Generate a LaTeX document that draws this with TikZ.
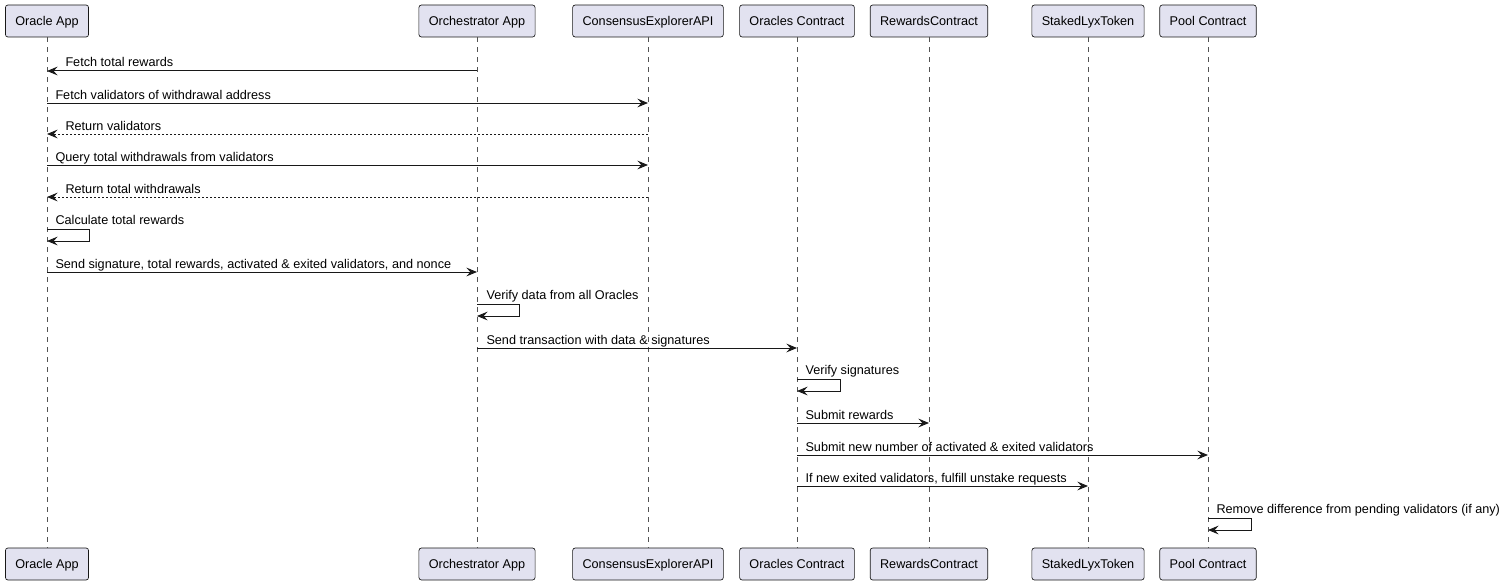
\documentclass[tikz,border=0pt]{standalone}
\usepackage{fontspec}
\setmainfont{Liberation Sans}
\usetikzlibrary{arrows.meta}

\definecolor{partfill}{HTML}{E2E2F0}
\definecolor{umlline}{HTML}{181818}

\tikzset{every picture/.style={line width=0.75pt}}
\tikzset{
  participant/.style={draw=umlline, fill=partfill, rounded corners=1.9pt, line width=0.5pt,
    minimum height=24pt, inner xsep=7.4pt, inner ysep=0pt, text depth=0.5pt, font=\fontsize{9.5}{11}\selectfont},
  lifeline/.style={draw=umlline!75, line width=0.4pt, dash pattern=on 3.75pt off 3.75pt},
  msg/.style={draw=umlline, line width=0.75pt, -{Stealth[length=8pt,width=6.6pt,inset=3pt]}},
  reply/.style={msg, dash pattern=on 1.5pt off 1.5pt},
  msglabel/.style={anchor=base west, inner sep=0pt, font=\fontsize{9.5}{11}\selectfont},
}

\begin{document}
\begin{tikzpicture}[x=0.75pt,y=0.75pt,yscale=-1,xscale=1]
\useasboundingbox (0,0) rectangle (1505,585);

%Participants (top)
\node [participant] (oaTop) at (47,21) {Oracle App};
\node [participant] (orTop) at (477,21) {Orchestrator App};
\node [participant] (ceTop) at (648,21) {ConsensusExplorerAPI};
\node [participant] (ocTop) at (797,21) {Oracles Contract};
\node [participant] (rcTop) at (929,21) {RewardsContract};
\node [participant] (slTop) at (1088,21) {StakedLyxToken};
\node [participant] (pcTop) at (1208,21) {Pool Contract};
%Participants (bottom)
\node [participant] (oaBot) at (47,564) {Oracle App};
\node [participant] (orBot) at (477,564) {Orchestrator App};
\node [participant] (ceBot) at (648,564) {ConsensusExplorerAPI};
\node [participant] (ocBot) at (797,564) {Oracles Contract};
\node [participant] (rcBot) at (929,564) {RewardsContract};
\node [participant] (slBot) at (1088,564) {StakedLyxToken};
\node [participant] (pcBot) at (1208,564) {Pool Contract};

%Lifelines
\foreach \p in {oa,or,ce,oc,rc,sl,pc}
  \draw [lifeline] (\p Top) -- (\p Bot);

%Messages
\draw [msg] (orTop |- 0,71) -- (oaTop |- 0,71);
\draw [msg] (oaTop |- 0,103) -- (ceTop |- 0,103);
\draw [reply] (ceTop |- 0,134) -- (oaTop |- 0,134);
\draw [msg] (oaTop |- 0,165) -- (ceTop |- 0,165);
\draw [reply] (ceTop |- 0,197) -- (oaTop |- 0,197);
\draw [msg] (oaTop |- 0,229) -- ++(42,0) -- ++(0,12) -- (oaTop |- 0,241);
\draw [msg] (oaTop |- 0,272) -- (orTop |- 0,272);
\draw [msg] (orTop |- 0,304) -- ++(42,0) -- ++(0,12) -- (orTop |- 0,316);
\draw [msg] (orTop |- 0,348) -- (ocTop |- 0,348);
\draw [msg] (ocTop |- 0,379) -- ++(43,0) -- ++(0,12) -- (ocTop |- 0,391);
\draw [msg] (ocTop |- 0,423) -- (rcTop |- 0,423);
\draw [msg] (ocTop |- 0,455) -- (pcTop |- 0,455);
\draw [msg] (ocTop |- 0,486) -- (slTop |- 0,486);
\draw [msg] (pcTop |- 0,518) -- ++(43,0) -- ++(0,12) -- (pcTop |- 0,530);

% Text Node
\node [msglabel] (fetchRewards) at (65,67) {Fetch total rewards};
\node [msglabel] (fetchValidators) at (55,99) {Fetch validators of withdrawal address};
\node [msglabel] (returnValidators) at (65,130) {Return validators};
\node [msglabel] (queryWithdrawals) at (55,161) {Query total withdrawals from validators};
\node [msglabel] (returnWithdrawals) at (65,193) {Return total withdrawals};
\node [msglabel] (calcRewards) at (55,224) {Calculate total rewards};
\node [msglabel] (sendSignature) at (55,268) {Send signature, total rewards, activated \& exited validators, and nonce};
\node [msglabel] (verifyData) at (486,299) {Verify data from all Oracles};
\node [msglabel] (sendTx) at (486,344) {Send transaction with data \& signatures};
\node [msglabel] (verifySigs) at (805,374) {Verify signatures};
\node [msglabel] (submitRewards) at (805,419) {Submit rewards};
\node [msglabel] (submitNumber) at (805,451) {Submit new number of activated \& exited validators};
\node [msglabel] (fulfillUnstake) at (805,482) {If new exited validators, fulfill unstake requests};
\node [msglabel] (removeDiff) at (1216,513) {Remove difference from pending validators (if any)};

\end{tikzpicture}
\end{document}
